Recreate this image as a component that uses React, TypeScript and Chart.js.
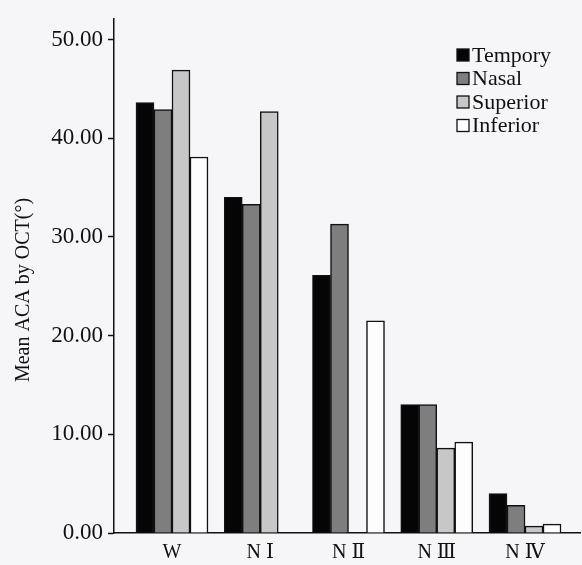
import React, { useEffect, useRef } from "react";
import { Chart, registerables } from "chart.js";

Chart.register(...registerables);

const categories = ["W", "N Ⅰ", "N Ⅱ", "N Ⅲ", "N Ⅳ"];
const seriesNames = ["Tempory", "Nasal", "Superior", "Inferior"];
const tempory = [43.6, 34.0, 26.1, 13.0, 4.0];
const nasal = [42.9, 33.3, 31.3, 13.0, 2.8];
const superior = [46.9, 42.7, null, 8.6, 0.7];
const inferior = [38.1, null, 21.5, 9.2, 0.9];
const yTicks = [0, 10, 20, 30, 40, 50];
const yTitle = "Mean ACA by OCT(°)";

const colors = ["#050505", "#7e7e7e", "#c7c7c7", "#fdfdfd"];
const FONT = '"Liberation Serif", "DejaVu Serif", "Noto Sans CJK SC", serif';

export default function App() {
  const ref = useRef<HTMLCanvasElement | null>(null);
  useEffect(() => {
    if (!ref.current) return;
    const series = [tempory, nasal, superior, inferior];
    const bg = {
      id: "bg",
      beforeDraw(chart: any) {
        const { ctx, width, height } = chart;
        ctx.save();
        ctx.fillStyle = "#f6f6f9";
        ctx.fillRect(0, 0, width, height);
        ctx.restore();
      },
    };
    const legendAndTitle = {
      id: "legendAndTitle",
      afterDraw(chart: any) {
        const { ctx } = chart;
        ctx.save();
        chart.data.datasets.forEach((ds: any, i: number) => {
          const cy = 55 + i * 23.5;
          ctx.fillStyle = ds.backgroundColor;
          ctx.fillRect(457, cy - 6, 12, 12);
          ctx.strokeStyle = "#111";
          ctx.lineWidth = 1.3;
          ctx.strokeRect(457, cy - 6, 12, 12);
          ctx.fillStyle = "#111";
          ctx.font = `22px ${FONT}`;
          ctx.textBaseline = "middle";
          ctx.textAlign = "left";
          ctx.fillText(ds.label, 472, cy + 1);
        });
        ctx.translate(24, 290);
        ctx.rotate(-Math.PI / 2);
        ctx.font = `20px ${FONT}`;
        ctx.textAlign = "center";
        ctx.textBaseline = "middle";
        ctx.fillStyle = "#111";
        ctx.fillText(yTitle, 0, 0);
        ctx.restore();
      },
    };
    const chart = new Chart(ref.current, {
      type: "bar",
      data: {
        datasets: seriesNames.map((name, si) => ({
          label: name,
          data: categories.map((_, i) => ({ x: i, y: series[si][i] })),
          backgroundColor: colors[si],
          borderColor: "#111",
          borderWidth: 1.5,
          barThickness: 18,
        })),
      },
      options: {
        responsive: false,
        animation: false,
        layout: { padding: { top: 12, right: 2, left: 0, bottom: 0 } },
        plugins: { legend: { display: false }, tooltip: { enabled: false } },
        scales: {
          x: {
            type: "linear",
            offset: false,
            min: -0.657,
            max: 4.623,
            afterBuildTicks: (s: any) => {
              s.ticks = categories.map((_, i) => ({ value: i }));
            },
            afterFit: (s: any) => {
              s.height = 32;
            },
            grid: { display: false, drawTicks: false, offset: false },
            border: { display: true, color: "#111", width: 1.5 },
            ticks: {
              autoSkip: false,
              maxRotation: 0,
              padding: 8,
              color: "#111",
              font: { family: FONT, size: 20 },
              callback: (v: any) => categories[Math.round(Number(v))] ?? "",
            },
          },
          y: {
            min: 0,
            max: 52.1,
            afterBuildTicks: (s: any) => {
              s.ticks = yTicks.map((v) => ({ value: v }));
            },
            afterFit: (s: any) => {
              s.width = 114;
            },
            grid: {
              drawOnChartArea: false,
              drawTicks: true,
              tickLength: 6,
              tickWidth: 1.5,
              color: "#111",
            },
            border: { display: true, color: "#111", width: 1.5 },
            ticks: {
              padding: 5,
              color: "#111",
              font: { family: FONT, size: 23 },
              callback: (v: any) => Number(v).toFixed(2),
            },
          },
        },
      },
      plugins: [bg, legendAndTitle],
    } as any);
    return () => chart.destroy();
  }, []);
  return (
    <div style={{ position: "fixed", left: 0, top: 0, width: 582, height: 565 }}>
      <canvas ref={ref} width={582} height={565} style={{ display: "block" }} />
    </div>
  );
}
